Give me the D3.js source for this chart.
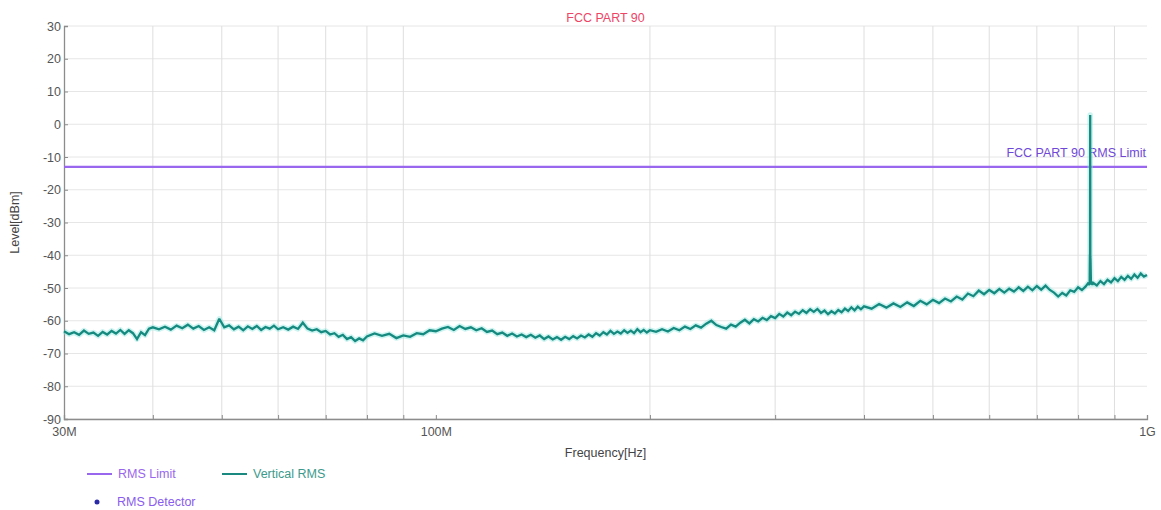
<!DOCTYPE html>
<html>
<head>
<meta charset="utf-8">
<script src="https://cdn.jsdelivr.net/npm/d3@7"></script>
<style>
  html, body { margin: 0; padding: 0; background: #fff; }
  svg { display: block; font-family: "Liberation Sans", Arial, sans-serif; }
</style>
</head>
<body>
<svg id="chart" width="1161" height="510"></svg>
<script>
// ---------- data ----------
const chartTitle = "FCC PART 90";
const limitName = "FCC PART 90 RMS Limit";
const limitLevel = -13; // dBm

const yTickValues = [30, 20, 10, 0, -10, -20, -30, -40, -50, -60, -70, -80, -90];
const xGridMHz = [40, 50, 60, 70, 80, 90, 200, 300, 400, 500, 600, 700, 800, 900];
const xLabelMHz = [30, 100, 1000];
const xLabelText = ["30M", "100M", "1G"];

const freqMHz = [
  30, 30.5, 31, 31.5, 32, 32.5, 33, 33.5, 34, 34.5, 35, 35.5, 36, 36.5, 37, 37.5, 38, 38.5, 39, 39.5, 40,
  40.8, 41.6, 42.4, 43.2, 44, 44.8, 45.6, 46.4, 47.2, 48, 48.8, 49.6, 50.4, 51.2, 52, 52.8, 53.6, 54.4, 55.2, 56, 56.8, 57.6, 58.4, 59.2, 60,
  61, 62, 63, 64, 65, 66, 67, 68, 69, 70, 71, 72, 73, 74, 75, 76, 77, 78, 79, 80, 82, 84, 86, 88, 90, 92, 94, 96, 98, 100,
  102, 104, 106, 108, 110, 112, 114, 116, 118, 120, 122, 124, 126, 128, 130, 132, 134, 136, 138, 140, 142, 144, 146, 148, 150,
  152, 154, 156, 158, 160, 162, 164, 166, 168, 170, 172, 174, 176, 178, 180, 182, 184, 186, 188, 190, 192, 194, 196, 198, 200,
  204, 208, 212, 216, 220, 224, 228, 232, 236, 240, 244, 248, 252, 256, 260, 264, 268, 272, 276, 280, 284, 288, 292, 296, 300,
  304, 308, 312, 316, 320, 324, 328, 332, 336, 340, 344, 348, 352, 356, 360, 364, 368, 372, 376, 380, 384, 388, 392, 396, 400,
  410, 420, 430, 440, 450, 460, 470, 480, 490, 500, 510, 520, 530, 540, 550, 560, 570, 580, 590, 600, 610, 620, 630, 640, 650,
  660, 670, 680, 690, 700, 710, 720, 730, 740, 750, 760, 770, 780, 790, 800, 810, 820, 826, 830.5, 831.2, 831.6, 832, 832.4, 832.8, 834, 838, 840, 850,
  860, 870, 880, 890, 900, 910, 920, 930, 940, 950, 960, 970, 980, 990, 1000
];

const verticalRmsDbm = [
  -63.2, -64.1, -63.5, -64.3, -63.0, -64.0, -63.6, -64.6, -63.4, -64.2, -63.1, -63.9, -62.8, -64.0, -62.9, -63.8, -65.6, -63.5, -64.4, -62.4, -62.0,
  -62.6, -61.8, -62.7, -61.5, -62.3, -61.2, -62.4, -61.6, -62.8, -62.0, -62.9, -59.4, -62.0, -61.4, -62.6, -61.8, -62.9, -61.7, -62.5, -61.6, -62.8, -61.9, -62.4, -61.5, -62.6,
  -62.0, -62.7, -61.8, -62.5, -60.6, -62.4, -63.0, -62.6, -63.5, -63.1, -64.2, -63.8, -64.9, -64.3, -65.6, -65.0, -66.2, -65.4, -66.0, -64.8, -63.9, -64.6, -64.0, -65.3, -64.5, -64.9, -63.8, -64.1, -62.9, -63.2,
  -62.4, -61.9, -62.8, -61.6, -62.5, -62.0, -62.9, -62.3, -63.4, -63.0, -64.1, -63.6, -64.6, -63.9, -64.8, -64.2, -65.0, -64.3, -65.2, -64.5, -65.6, -64.8, -65.7, -65.0, -65.8,
  -64.9, -65.6, -64.7, -65.4, -64.5, -65.1, -64.2, -64.9, -63.8, -64.5, -63.5, -64.2, -63.1, -64.0, -63.3, -63.9, -62.9, -63.7, -63.0, -63.8, -62.6, -63.5, -62.8, -63.6, -62.9,
  -63.4, -62.6, -63.3, -62.2, -62.9, -61.8, -62.5, -61.4, -62.1, -60.9, -60.0, -61.3, -61.9, -62.4, -61.2, -61.8, -60.6, -59.7, -60.8, -59.5, -60.2, -59.1, -59.8, -58.6, -59.2,
  -57.9, -58.7, -57.5, -58.3, -57.2, -57.9, -56.8, -57.6, -56.5, -57.3, -56.4, -57.6, -56.9, -58.0, -57.1, -57.8, -56.7, -57.4, -56.3, -57.0, -55.9, -56.8, -55.7, -56.5, -55.6,
  -56.3, -54.9, -56.0, -54.7, -55.8, -54.4, -55.5, -53.9, -55.0, -53.6, -54.6, -53.2, -54.1, -52.6, -53.5, -51.7, -52.5, -50.8, -51.9, -50.6, -51.6, -50.3, -51.4, -50.2, -51.1,
  -49.8, -50.9, -49.6, -50.7, -49.4, -50.5, -49.3, -50.6, -51.4, -52.6, -51.5, -52.3, -50.7, -51.2, -49.8, -50.6, -49.5, -48.6, -49.0, -40.0, -39.5, 2.8, -40.5, -41.0, -48.2, -49.0, -48.4, -49.2,
  -47.9, -48.8, -47.5, -48.3, -47.0, -47.9, -46.6, -47.5, -46.3, -47.2, -45.9, -46.9, -45.6, -46.5, -46.0
];

const legendItems = [
  { name: "RMS Limit", kind: "line", color: "#9966ee", text: "#9a66ee" },
  { name: "Vertical RMS", kind: "line", color: "#1a8a80", text: "#3c9a8c" },
  { name: "RMS Detector", kind: "dot", color: "#2a2aa8", text: "#8a5cee" }
];

// ---------- layout ----------
const svg = d3.select("#chart");
const plot = { left: 64, right: 1147, top: 26, bottom: 419 };
const FONT = 12.5;

const x = d3.scaleLog().domain([30, 1000]).range([plot.left, plot.right]);
const y = d3.scaleLinear().domain([-90, 30]).range([plot.bottom, plot.top]);

// grid
const grid = svg.append("g");
grid.selectAll("line.h").data(yTickValues).join("line")
  .attr("x1", plot.left).attr("x2", plot.right)
  .attr("y1", d => y(d)).attr("y2", d => y(d))
  .attr("stroke", "#e6e6e6").attr("stroke-width", 1);
grid.selectAll("line.v").data(xGridMHz).join("line")
  .attr("y1", plot.top).attr("y2", plot.bottom)
  .attr("x1", d => x(d)).attr("x2", d => x(d))
  .attr("stroke", "#dedede").attr("stroke-width", 1);

// axes
const yAxis = d3.axisLeft(y).tickValues(yTickValues).tickSize(-4).tickPadding(3).tickFormat(d => String(d));
const gy = svg.append("g").attr("transform", `translate(${plot.left},0)`).call(yAxis);
const allXTicks = xLabelMHz.concat(xGridMHz);
const xAxis = d3.axisBottom(x).tickValues(allXTicks).tickSize(-4).tickPadding(8)
  .tickFormat(d => { const i = xLabelMHz.indexOf(d); return i >= 0 ? xLabelText[i] : ""; });
const gx = svg.append("g").attr("transform", `translate(0,${plot.bottom})`).call(xAxis);
[gx, gy].forEach(g => {
  g.select(".domain").attr("stroke", "#8c8c8c").attr("stroke-width", 1.3);
  g.selectAll(".tick line").attr("stroke", "#8c8c8c");
  g.selectAll(".tick text").attr("fill", "#555").attr("font-size", FONT)
    .attr("font-family", '"Liberation Sans", Arial, sans-serif');
});

// limit line
svg.append("line")
  .attr("x1", plot.left).attr("x2", plot.right)
  .attr("y1", y(limitLevel)).attr("y2", y(limitLevel))
  .attr("stroke", "#9966ee").attr("stroke-width", 2.2);
svg.append("text").text(limitName)
  .attr("x", plot.right - 1).attr("y", y(limitLevel) - 10)
  .attr("text-anchor", "end").attr("font-size", FONT).attr("fill", "#7048d8");

// trace
const pts = freqMHz.map((f, i) => [f, verticalRmsDbm[i]]);
const line = d3.line().x(d => x(d[0])).y(d => y(d[1]));
svg.append("path").datum(pts).attr("d", line)
  .attr("fill", "none").attr("stroke", "#8fe6e0").attr("stroke-opacity", 0.45)
  .attr("stroke-width", 5.5).attr("stroke-linejoin", "round");
svg.append("path").datum(pts).attr("d", line)
  .attr("fill", "none").attr("stroke", "#178a80").attr("stroke-width", 2.3)
  .attr("stroke-linejoin", "miter").attr("stroke-miterlimit", 2);

// title and axis titles
svg.append("text").text(chartTitle)
  .attr("x", (plot.left + plot.right) / 2).attr("y", 22)
  .attr("text-anchor", "middle").attr("font-size", FONT).attr("fill", "#ee4466");
svg.append("text").text("Frequency[Hz]")
  .attr("x", (plot.left + plot.right) / 2).attr("y", 457)
  .attr("text-anchor", "middle").attr("font-size", FONT).attr("fill", "#444");
svg.append("text").text("Level[dBm]")
  .attr("transform", `translate(19,${(plot.top + plot.bottom) / 2}) rotate(-90)`)
  .attr("text-anchor", "middle").attr("font-size", FONT).attr("fill", "#444");

// legend
const lg = svg.append("g");
const legendPos = [[87, 474], [222, 474], [87, 502]];
legendItems.forEach((it, i) => {
  const [lx, ly] = legendPos[i];
  if (it.kind === "line") {
    lg.append("line").attr("x1", lx).attr("x2", lx + 25).attr("y1", ly).attr("y2", ly)
      .attr("stroke", it.color).attr("stroke-width", 2);
    lg.append("text").text(it.name).attr("x", lx + 31).attr("y", ly + 4)
      .attr("font-size", FONT).attr("fill", it.text);
  } else {
    lg.append("circle").attr("cx", lx + 10).attr("cy", ly).attr("r", 2.5).attr("fill", it.color);
    lg.append("text").text(it.name).attr("x", lx + 30).attr("y", ly + 4)
      .attr("font-size", FONT).attr("fill", it.text);
  }
});
</script>
</body>
</html>
